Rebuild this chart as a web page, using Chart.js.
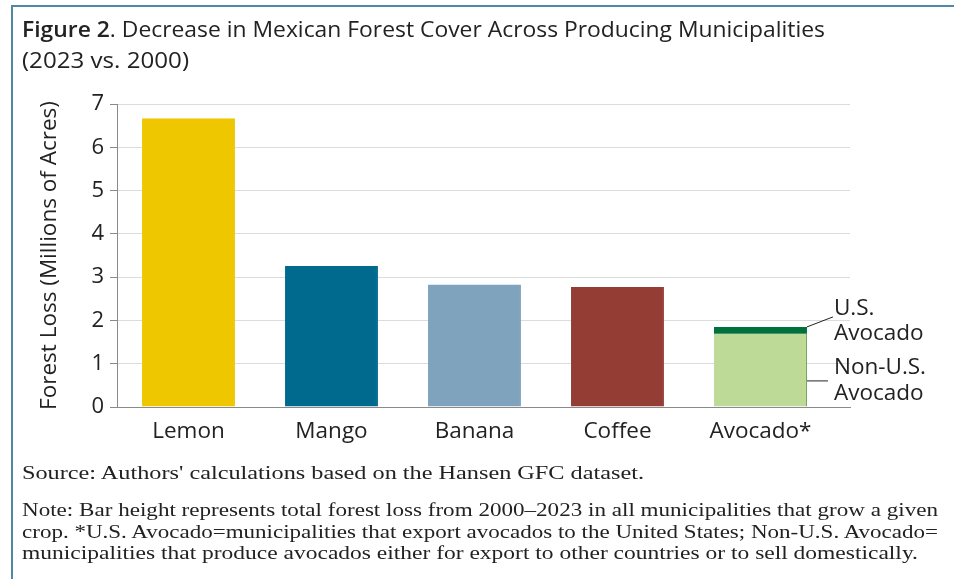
<!DOCTYPE html>
<html>
<head>
<meta charset="utf-8">
<script src="https://cdn.jsdelivr.net/npm/chart.js@4"></script>
<style>
  html, body { margin: 0; padding: 0; background: #fff; }
  #wrap { position: relative; width: 954px; height: 579px; overflow: hidden; }
  #frame { position: absolute; left: 11px; top: 5px; right: -2px; bottom: -2px;
           border-left: 2px solid #4f88a6; border-top: 2px solid #4f88a6; }
  #chartBox { position: absolute; left: 0; top: 0; width: 954px; height: 579px; }
  .fit { position: absolute; left: 22px; white-space: nowrap; color: #222; transform-origin: 0 0; }
  .title { font-family: "Open Sans", sans-serif; font-size: 21px; line-height: 30px; }
  .title b { font-weight: 600; }
  .foot { font-family: "Liberation Serif", serif; font-size: 19.5px; line-height: 22px; }
</style>
</head>
<body>
<div id="wrap">
  <div id="frame"></div>
  <div id="chartBox"><canvas id="myChart"></canvas></div>
  <div class="fit title" style="top:14px" data-w="803"><b>Figure 2</b>. Decrease in Mexican Forest Cover Across Producing Municipalities</div>
  <div class="fit title" style="top:45px" data-w="167">(2023 vs. 2000)</div>
  <div class="fit foot" style="top:462px" data-w="622">Source: Authors' calculations based on the Hansen GFC dataset.</div>
  <div class="fit foot" style="top:499px" data-w="916">Note: Bar height represents total forest loss from 2000–2023 in all municipalities that grow a given</div>
  <div class="fit foot" style="top:520.5px" data-w="916">crop. *U.S. Avocado=municipalities that export avocados to the United States; Non-U.S. Avocado=</div>
  <div class="fit foot" style="top:542px" data-w="896">municipalities that produce avocados either for export to other countries or to sell domestically.</div>
</div>
<script>
// forest loss, millions of acres
const crops = ['Lemon', 'Mango', 'Banana', 'Coffee', 'Avocado*']
const mainLoss = [6.67, 3.26, 2.83, 2.77, 1.69]   // avocado = non-U.S. part
const usAvocadoLoss = [null, null, null, null, 0.16]
const yTicks = [0, 1, 2, 3, 4, 5, 6, 7]
const barColors = ['#efc700', '#006a8e', '#7fa3bd', '#943d34', '#bddb96']
const usColor = '#00703c'

const chartFont = '"Open Sans", sans-serif'

// stretch text lines to the width they have in the print figure
document.querySelectorAll('.fit').forEach(el => {
    const w = el.getBoundingClientRect().width
    el.style.transform = 'scaleX(' + (+el.dataset.w / w) + ')'
})

// leader lines + labels for the avocado stack
const avocadoNotes = {
    id: 'avocadoNotes',
    afterDatasetsDraw(chart) {
        const ctx = chart.ctx
        const usBar = chart.getDatasetMeta(1).data[4]
        if (!usBar) return
        const right = usBar.x + usBar.width / 2
        const top = usBar.y
        ctx.save()
        ctx.strokeStyle = '#222'
        ctx.lineWidth = 1
        ctx.beginPath()
        ctx.moveTo(right, top)
        ctx.lineTo(right + 26, top - 10)
        ctx.moveTo(right, top + 54)
        ctx.lineTo(right + 21, top + 54)
        ctx.stroke()
        ctx.fillStyle = '#222'
        ctx.font = '22.5px ' + chartFont
        ctx.textBaseline = 'alphabetic'
        ctx.fillText('U.S.', right + 27, top - 12)
        ctx.fillText('Avocado', right + 27, top + 13)
        ctx.fillText('Non-U.S.', right + 27, top + 47)
        ctx.fillText('Avocado', right + 27, top + 73)
        ctx.restore()
    }
}

new Chart(document.getElementById('myChart'), {
    type: 'bar',
    data: {
        datasets: [
            {
                label: 'Forest loss',
                data: mainLoss.map((v, i) => ({x: i, y: v})),
                backgroundColor: barColors,
                borderColor: ['#efc700', '#006a8e', '#7fa3bd', '#943d34', '#6f9a5a'],
                borderWidth: {right: 1},
                categoryPercentage: 1,
                barPercentage: 0.65
            },
            {
                label: 'U.S. Avocado',
                data: usAvocadoLoss.map((v, i) => ({x: i, y: v})),
                backgroundColor: usColor,
                categoryPercentage: 1,
                barPercentage: 0.65
            }
        ]
    },
    options: {
        responsive: true,
        maintainAspectRatio: false,
        animation: false,
        layout: {padding: {left: 30, top: 104, right: 104, bottom: 132}},
        plugins: {legend: {display: false}, tooltip: {enabled: false}},
        scales: {
            x: {
                type: 'linear',
                stacked: true,
                offset: false,
                min: -0.5,
                max: 4.626,
                grid: {display: false},
                border: {display: true, color: '#8a8a8a'},
                afterBuildTicks: (s) => { s.ticks = crops.map((c, i) => ({value: i})) },
                afterFit: (s) => { s.height = 40 },
                ticks: {
                    autoSkip: false,
                    maxRotation: 0,
                    padding: 3,
                    color: '#222',
                    font: {family: chartFont, size: 22.5},
                    callback: (v) => crops[v]
                }
            },
            y: {
                stacked: true,
                min: 0,
                max: 7,
                afterBuildTicks: (s) => { s.ticks = yTicks.map(v => ({value: v})) },
                afterFit: (s) => { s.width = 87 },
                grid: {color: '#dcdcdc', tickColor: '#8a8a8a', tickLength: 7},
                border: {display: true, color: '#8a8a8a'},
                ticks: {padding: 6, color: '#222', font: {family: chartFont, size: 22}},
                title: {
                    display: true,
                    text: 'Forest Loss (Millions of Acres)',
                    color: '#222',
                    padding: {top: 6, bottom: 0},
                    font: {family: chartFont, size: 22.5}
                }
            }
        }
    },
    plugins: [avocadoNotes]
})
</script>
</body>
</html>
